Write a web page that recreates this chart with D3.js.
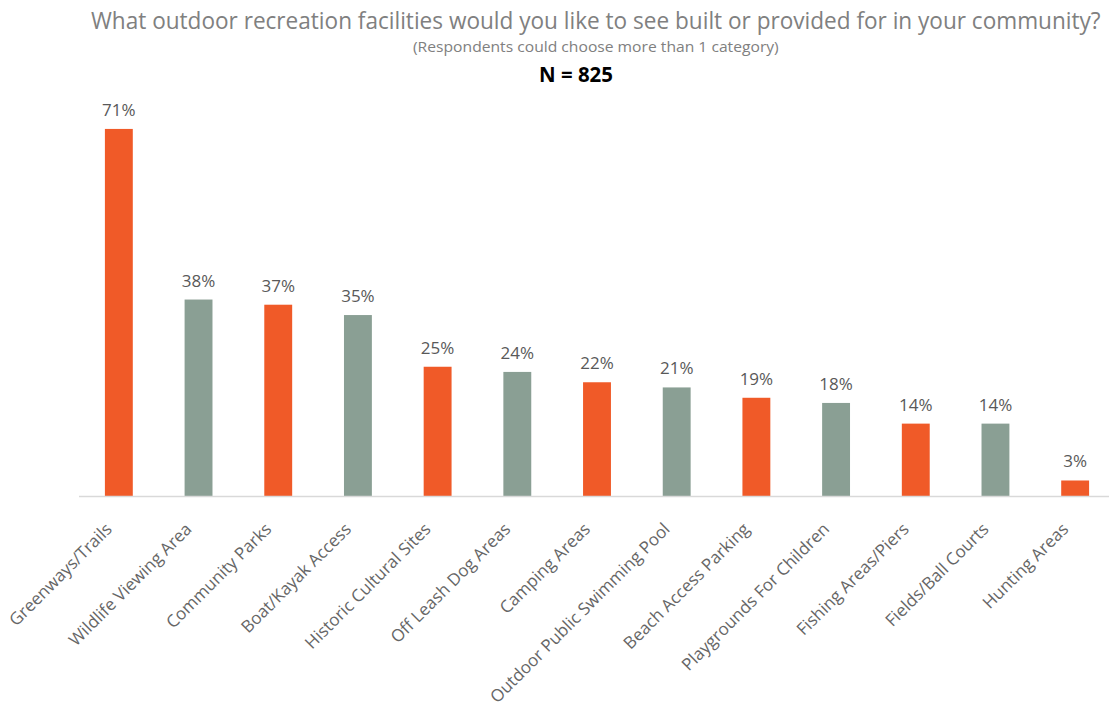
<!DOCTYPE html>
<html>
<head>
<meta charset="utf-8">
<script src="https://cdn.jsdelivr.net/npm/d3@7"></script>
<style>
  body { margin: 0; background: #fff; }
  svg { display: block; }
</style>
</head>
<body>
<div id="chart"></div>
<script>

// --- Daten -------------------------------------------------------------------- //

var categories = ['Greenways/Trails', 'Wildlife Viewing Area', 'Community Parks', 'Boat/Kayak Access',
    'Historic Cultural Sites', 'Off Leash Dog Areas', 'Camping Areas', 'Outdoor Public Swimming Pool',
    'Beach Access Parking', 'Playgrounds For Children', 'Fishing Areas/Piers', 'Fields/Ball Courts', 'Hunting Areas'];
var values = [71, 38, 37, 35, 25, 24, 22, 21, 19, 18, 14, 14, 3];
var valueLabels = ['71%', '38%', '37%', '35%', '25%', '24%', '22%', '21%', '19%', '18%', '14%', '14%', '3%'];

var titleText = 'What outdoor recreation facilities would you like to see built or provided for in your community?';
var subText = '(Respondents could choose more than 1 category)';
var nText = 'N = 825';

// --- Chart ------------------------------------------------------------------- //

var width = 1109, height = 717;
var baseY = 496;

var svg = d3.select('#chart').append('svg')
    .attr('width', width)
    .attr('height', height);

var x = d3.scaleBand()
    .domain(categories)
    .range([79, 1115])
    .paddingInner(0.65)
    .paddingOuter(0.325);

var y = d3.scaleLinear()
    .domain([0, 80])
    .range([baseY, baseY - 80 * 5.17]);

// schmale Titel: horizontal stauchen auf Zielbreite
function narrowText(_txt, _x, _y, _w, _size, _color, _bold) {
    var t = svg.append('text')
        .attr('x', 0)
        .attr('y', 0)
        .attr('fill', _color)
        .style('font-family', "'Open Sans', sans-serif")
        .style('font-size', _size + 'px')
        .style('font-weight', _bold ? 'bold' : 'normal')
        .text(_txt);
    var len = t.node().getComputedTextLength();
    var sx = _w / len;
    t.attr('transform', 'translate(' + _x + ',' + _y + ') scale(' + sx + ',1)');
    return t;
}

narrowText(titleText, 91, 29, 1010, 23, '#808080', false);
narrowText(subText, 413, 52, 366, 15, '#808080', false);
narrowText(nText, 539, 82, 74, 21, '#000', true);

// bars
svg.append('g').selectAll('rect')
    .data(values)
    .enter().append('rect')
    .attr('x', function (d, i) { return x(categories[i]); })
    .attr('y', function (d) { return y(d); })
    .attr('width', x.bandwidth())
    .attr('height', function (d) { return baseY - y(d); })
    .attr('fill', function (d, i) { return i % 2 == 0 ? '#f05a28' : '#8a9f94'; });

// axis line
var axis = svg.append('g')
    .attr('transform', 'translate(0,' + baseY + ')')
    .call(d3.axisBottom(x).tickSize(0).tickPadding(0).tickFormat(''));
axis.select('.domain')
    .attr('d', 'M79,0.5H1109')
    .attr('stroke', '#d9d9d9')
    .attr('stroke-width', 1.5);

// value labels
svg.append('g').selectAll('text')
    .data(values)
    .enter().append('text')
    .attr('x', function (d, i) { return x(categories[i]) + x.bandwidth() / 2; })
    .attr('y', function (d) { return y(d) - 13; })
    .attr('text-anchor', 'middle')
    .attr('fill', '#595959')
    .style('font-family', "'Open Sans', sans-serif")
    .style('font-size', '17px')
    .text(function (d, i) { return valueLabels[i]; });

// category labels
svg.append('g').selectAll('text')
    .data(categories)
    .enter().append('text')
    .attr('transform', function (d) {
        return 'translate(' + (x(d) + x.bandwidth() / 2 - 10) + ',' + (baseY + 30) + ') rotate(-45)';
    })
    .attr('text-anchor', 'end')
    .attr('dy', '0.35em')
    .attr('fill', '#666')
    .style('font-family', "'Open Sans', sans-serif")
    .style('font-size', '17px')
    .text(function (d) { return d; });

</script>
</body>
</html>
